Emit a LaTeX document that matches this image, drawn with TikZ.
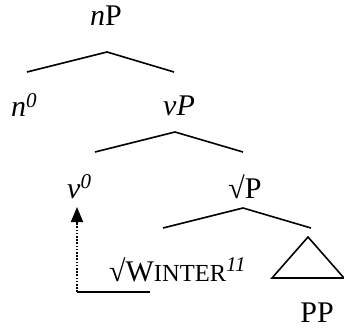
\documentclass[tikz,border=0pt]{standalone}
\usepackage{fontspec}
\setmainfont{Liberation Serif}
\usepackage{tikz}
\usetikzlibrary{arrows.meta,positioning}

\begin{document}
\begin{tikzpicture}[
    x=1pt, y=-1pt,
    lbl/.style={inner sep=0pt, anchor=base, font=\fontsize{30}{34}\selectfont},
    branch/.style={line width=1.6pt},
    move/.style={line width=1.7pt, dash pattern=on 1.6pt off 1.6pt, -{Triangle[width=12pt,length=15pt]}},
]
    \useasboundingbox (0,0) rectangle (344,328);
    % labels
    \node[lbl] (np) at (106,26) {\textit{n}P};
    \node[lbl, anchor=base west] (n0) at (11,117) {\textit{n}\textsuperscript{\textit{0}}};
    \node[lbl, anchor=base west] (vp) at (163,116) {\textit{vP}};
    \node[lbl, anchor=base west] (v0) at (67,198) {\textit{v}\textsuperscript{\textit{0}}};
    \node[lbl] (rp) at (245,198) {√P};
    \node[lbl, anchor=base west] (root) at (109,281) {√W{\fontsize{24.5}{28}\selectfont INTER}\textsuperscript{\textit{11}}};
    \node[lbl] (pp) at (317,322) {PP};
    % branches
    \coordinate (a1) at (27,72);  \coordinate (t1) at (107,52);  \coordinate (b1) at (174,72);
    \coordinate (a2) at (95,152); \coordinate (t2) at (175,132); \coordinate (b2) at (243,152);
    \coordinate (a3) at (163,228);\coordinate (t3) at (243,208); \coordinate (b3) at (311,228);
    \draw[branch] (a1) -- (t1) -- (b1);
    \draw[branch] (a2) -- (t2) -- (b2);
    \draw[branch] (a3) -- (t3) -- (b3);
    % triangle over PP
    \coordinate (tri) at (308,237);
    \draw[branch] (tri) -- (272,278) -- (344,278) -- cycle;
    % trace and movement
    \coordinate (tr) at (77,292);
    \coordinate (tre) at (150,292);
    \coordinate (land) at (77,207);
    \draw[branch] (tr) -- (tre);
    \draw[move] (tr) -- (land);
\end{tikzpicture}
\end{document}
